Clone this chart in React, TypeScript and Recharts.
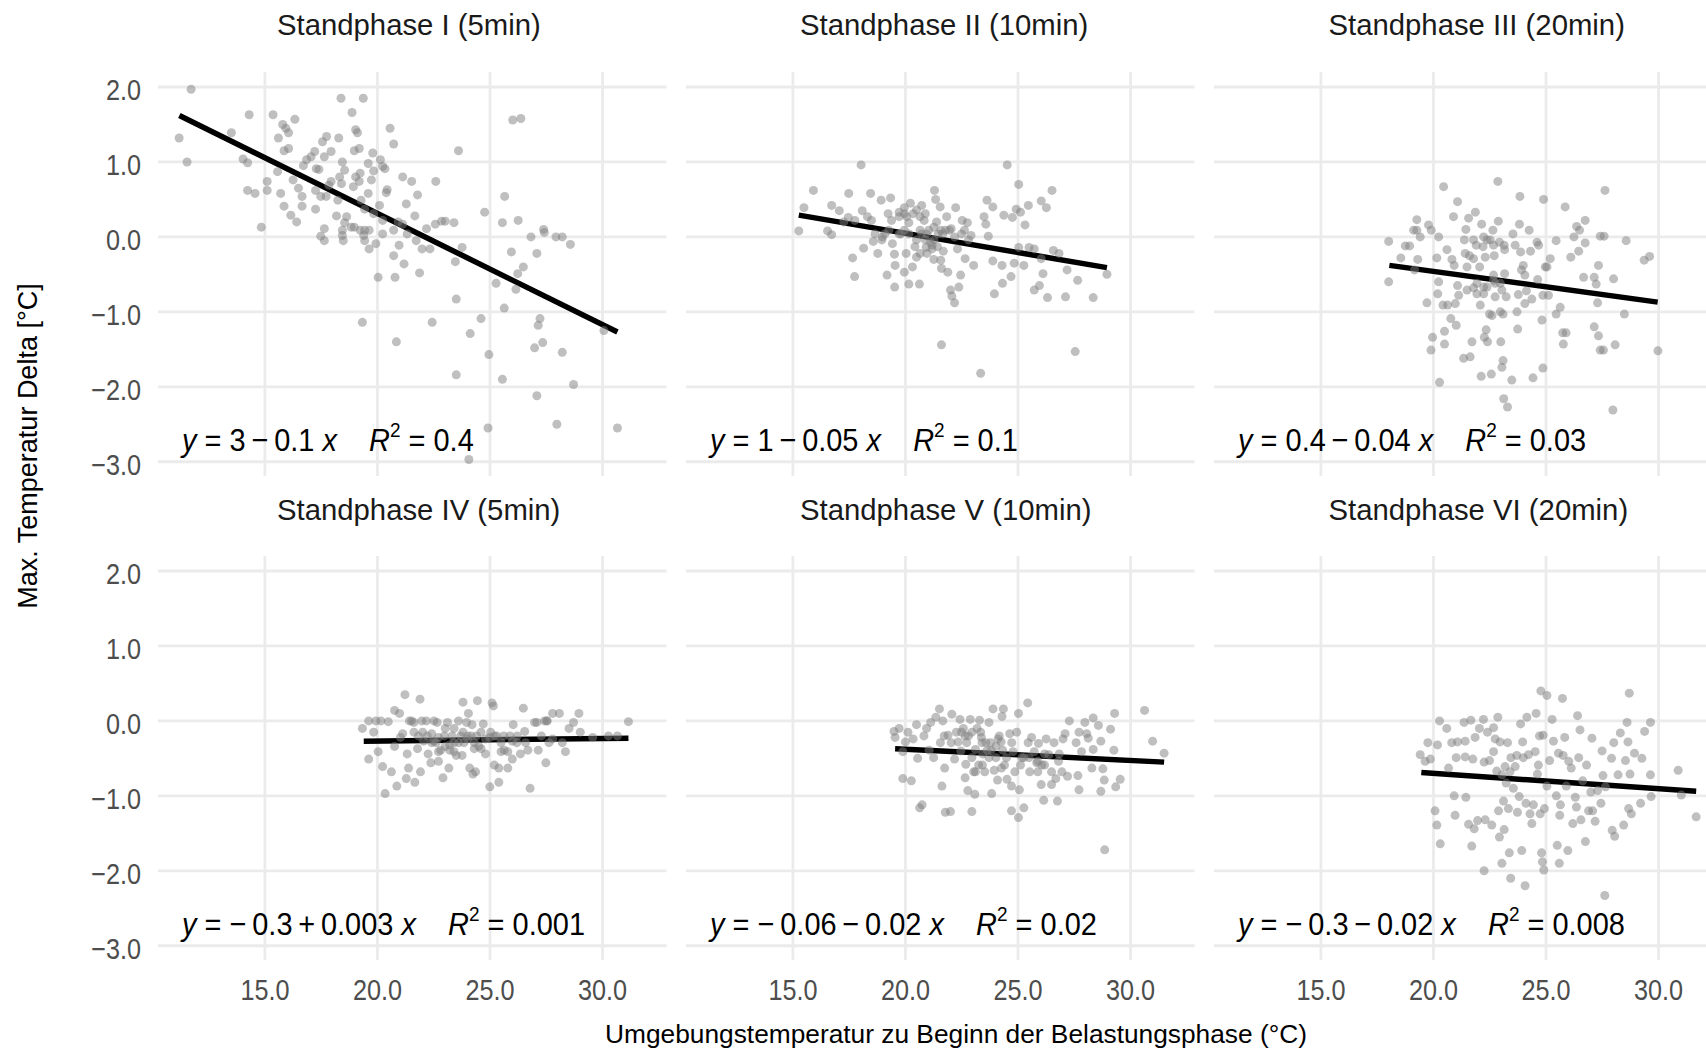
import React from 'react';
import {
  ScatterChart,
  Scatter,
  XAxis,
  YAxis,
  CartesianGrid,
  ReferenceLine
} from 'recharts';

// facet titles, regression labels
const titles = [
  'Standphase I (5min)',
  'Standphase II (10min)',
  'Standphase III (20min)',
  'Standphase IV (5min)',
  'Standphase V (10min)',
  'Standphase VI (20min)'
];
const eqRhs = [
  '3\u2009\u2212\u20090.1',
  '1\u2009\u2212\u20090.05',
  '0.4\u2009\u2212\u20090.04',
  '\u2212\u20090.3\u2009+\u20090.003',
  '\u2212\u20090.06\u2009\u2212\u20090.02',
  '\u2212\u20090.3\u2009\u2212\u20090.02'
];
const eqR2 = ['0.4', '0.1', '0.03', '0.001', '0.02', '0.008'];

const xTicks = [15, 20, 25, 30];
const yTicks = [-3, -2, -1, 0, 1, 2];

// fitted lines, read at both ends: [x1, y1, x2, y2]
const fitLines = [
  [11.2, 1.62, 30.66, -1.27],
  [15.26, 0.29, 28.95, -0.41],
  [18.04, -0.38, 29.96, -0.87],
  [19.39, -0.27, 31.15, -0.23],
  [19.54, -0.37, 31.49, -0.55],
  [19.46, -0.69, 31.67, -0.94]
];

// [ambient temperature, max. temperature delta]
const phase1 = [
  [11.72, 1.97], [11.19, 1.32], [11.54, 1.0], [13.51, 1.39], [14.03, 1.04], [14.23, 0.99], [14.3, 1.63],
  [14.23, 0.62], [14.56, 0.58], [14.84, 0.13], [15.1, 0.74], [15.1, 0.62], [15.36, 1.63], [15.6, 1.32],
  [15.79, 1.5], [15.93, 1.45], [16.05, 1.39], [16.33, 1.57], [15.85, 1.15], [16.05, 1.18], [15.56, 0.87],
  [15.7, 0.58], [15.85, 0.41], [16.15, 0.29], [16.25, 0.76], [16.41, 0.2], [16.49, 0.65], [16.65, 0.54],
  [16.65, 0.41], [16.71, 0.95], [16.85, 1.03], [17.05, 1.07], [17.21, 1.14], [17.28, 0.91], [17.4, 0.9],
  [17.56, 1.27], [17.74, 1.34], [17.64, 1.07], [17.94, 1.14], [17.94, 0.74], [17.84, 0.69], [17.25, 0.62],
  [17.48, 0.54], [17.72, 0.54], [17.25, 0.37], [17.48, 0.01], [17.64, -0.05], [17.64, 0.11], [18.28, 1.32],
  [18.38, 1.85], [18.87, 1.66], [19.03, 1.43], [19.11, 1.39], [19.37, 1.85], [18.97, 1.15], [19.19, 1.18],
  [18.44, 1.0], [18.54, 0.89], [18.32, 0.8], [18.4, 0.71], [18.24, 0.49], [18.18, 0.28], [18.54, 0.19],
  [18.44, 0.09], [18.44, 0.02], [18.48, -0.05], [18.63, 0.27], [18.83, 0.13], [18.93, 0.67], [19.03, 0.8],
  [19.23, 0.85], [19.19, 0.74], [19.59, 0.58], [19.27, 0.49], [19.43, 0.37], [18.97, 0.13], [19.23, 0.09],
  [19.43, 0.09], [19.63, 0.09], [19.39, 0.02], [19.43, -0.05], [19.63, -0.16], [19.93, -0.09], [19.79, 1.12],
  [19.59, 0.98], [19.73, 0.76], [19.83, 0.88], [20.13, 1.03], [20.23, 0.94], [20.33, 0.91], [20.43, 0.63],
  [20.39, 0.59], [20.09, 0.42], [20.23, 0.22], [19.83, 0.31], [20.23, 0.04], [20.03, -0.54], [19.33, -1.14],
  [20.56, 1.45], [20.72, 1.24], [21.12, 0.8], [21.52, 0.74], [21.78, 0.56], [21.28, 0.44], [21.66, 0.28],
  [20.72, 0.09], [20.92, 0.2], [21.12, 0.17], [21.32, 0.04], [21.72, -0.05], [21.98, -0.16], [22.18, 0.11],
  [22.33, -0.16], [20.96, -0.11], [20.72, -0.25], [21.18, -0.36], [20.78, -0.54], [21.87, -0.48], [22.59, 0.74],
  [22.57, 0.17], [22.85, 0.21], [23.01, 0.21], [23.4, 0.19], [23.76, -0.14], [23.46, -0.33], [23.5, -0.83],
  [23.6, 1.15], [24.76, 0.33], [25.65, 0.54], [25.55, 0.19], [26.25, 0.22], [25.95, -0.2], [27.08, -0.22],
  [26.82, 0.0], [27.38, 0.1], [27.41, 0.06], [27.93, 0.0], [28.21, 0.0], [28.57, -0.1], [26.48, -0.4],
  [26.23, -0.49], [26.15, -0.7], [25.63, -0.95], [25.27, -0.62], [24.6, -1.09], [24.12, -1.29], [24.95, -1.57],
  [26.01, 1.56], [26.37, 1.58], [27.22, -1.09], [27.14, -1.18], [27.34, -1.41], [26.98, -1.48], [28.21, -1.54],
  [28.71, -1.97], [27.08, -2.12], [23.5, -1.84], [25.55, -1.9], [24.91, -2.55], [27.97, -2.5], [30.66, -2.55],
  [24.06, -2.97], [20.84, -1.4], [22.43, -1.14], [30.06, -1.25]
];

const phase2 = [
  [15.26, 0.08], [15.49, 0.39], [15.91, 0.62], [16.54, 0.08], [16.72, 0.03], [16.72, 0.42], [17.06, 0.35],
  [17.46, 0.26], [17.48, 0.58], [17.65, -0.28], [17.74, -0.53], [18.03, 0.96], [18.08, 0.35], [18.14, -0.15],
  [18.31, 0.27], [18.45, 0.58], [18.57, -0.06], [18.77, -0.22], [18.92, 0.49], [18.98, 0.0], [19.18, -0.51],
  [19.23, 0.31], [19.34, 0.52], [19.38, 0.22], [19.51, -0.23], [19.54, -0.38], [19.52, -0.67], [19.72, 0.33],
  [19.8, 0.04], [19.95, 0.39], [19.95, -0.47], [20.03, -0.22], [20.06, 0.27], [20.15, -0.63], [20.22, 0.45],
  [20.31, -0.4], [20.42, -0.13], [20.49, -0.27], [20.62, -0.63], [20.65, 0.09], [20.72, 0.42], [20.83, 0.22],
  [20.92, -0.14], [21.03, 0.09], [21.18, -0.11], [21.26, -0.3], [21.29, 0.62], [21.34, 0.5], [21.38, 0.2],
  [21.45, 0.04], [21.54, 0.4], [21.57, -0.31], [21.6, -0.42], [21.6, -1.44], [21.68, -0.19], [21.78, 0.09],
  [21.83, 0.27], [21.88, -0.47], [22.0, -0.71], [22.03, 0.11], [22.06, -0.79], [22.18, -0.88], [22.23, 0.39],
  [22.31, -0.16], [22.37, -0.67], [22.45, -0.51], [22.52, 0.22], [22.62, 0.09], [22.65, -0.29], [22.75, 0.19],
  [22.91, 0.02], [23.03, -0.38], [23.34, -1.82], [23.49, 0.27], [23.57, 0.17], [23.62, 0.49], [23.68, 0.01],
  [23.88, 0.4], [23.88, -0.32], [23.95, -0.76], [24.29, -0.38], [24.31, -0.62], [24.37, 0.29], [24.52, 0.96],
  [24.69, -0.53], [24.75, 0.26], [24.83, -0.35], [24.92, 0.37], [25.03, 0.7], [25.03, -0.14], [25.11, 0.33],
  [25.26, -0.38], [25.31, 0.16], [25.46, 0.42], [25.49, -0.14], [25.72, -0.16], [25.72, -0.71], [25.95, -0.65],
  [26.03, 0.48], [26.03, -0.29], [26.11, -0.49], [26.26, 0.39], [26.31, -0.81], [26.51, 0.62], [26.57, -0.18],
  [26.82, -0.22], [27.11, -0.8], [27.18, -0.44], [27.54, -1.53], [27.65, -0.58], [28.34, -0.81], [28.95, -0.5],
  [19.95, 0.09], [20.15, 0.04], [20.49, -0.04], [20.72, 0.04], [20.88, -0.04], [21.11, -0.07], [21.26, -0.04],
  [21.57, 0.09], [19.72, 0.04], [19.42, -0.09], [19.08, 0.04], [18.65, 0.04], [18.49, 0.22], [17.75, 0.22],
  [17.26, 0.2], [19.72, 0.27], [19.95, 0.31], [20.15, 0.19], [20.34, 0.31], [20.65, 0.27], [20.95, 0.04],
  [21.26, 0.13], [21.65, 0.04], [21.95, 0.09], [22.18, 0.0], [22.49, 0.04], [22.8, -0.04], [20.65, -0.22],
  [20.95, -0.22], [21.18, -0.16], [21.42, -0.13], [19.26, 0.09], [18.95, -0.04], [20.49, 0.36], [20.88, 0.31]
];

const phase3 = [
  [18.01, -0.06], [18.01, -0.6], [18.55, -0.28], [18.75, -0.12], [18.94, -0.12], [19.12, 0.09], [19.26, 0.23],
  [19.26, 0.09], [19.3, -0.3], [19.41, 0.0], [19.16, -0.44], [19.71, -0.88], [19.78, 0.16], [19.9, 0.09],
  [19.96, -1.34], [19.89, -1.51], [20.23, 0.0], [20.15, -0.28], [20.23, -0.6], [20.19, -0.76], [20.27, -1.94],
  [20.45, 0.67], [20.42, -0.91], [20.49, -1.43], [20.49, -1.26], [20.6, -0.17], [20.63, -0.91], [20.77, -1.09],
  [20.82, -0.3], [20.89, 0.27], [20.92, -0.38], [20.97, -0.89], [21.01, -1.18], [21.07, 0.47], [21.07, -0.65],
  [21.12, -0.78], [21.34, -1.62], [21.37, -0.04], [21.44, 0.1], [21.49, -0.4], [21.56, 0.25], [21.6, -0.25],
  [21.63, -1.6], [21.71, -1.4], [21.78, -0.68], [21.86, 0.33], [21.9, -0.11], [21.93, -0.76], [22.05, -0.4],
  [22.08, -0.91], [22.12, -1.86], [22.14, 0.17], [22.2, -0.13], [22.23, -0.67], [22.26, -1.34], [22.3, -0.27],
  [22.34, -1.24], [22.4, -1.4], [22.49, -1.03], [22.52, -0.04], [22.57, -1.83], [22.6, -1.05], [22.64, 0.09],
  [22.67, -0.51], [22.7, -0.25], [22.74, -0.8], [22.74, -0.62], [22.86, 0.74], [22.88, 0.21], [22.93, -0.07],
  [22.97, -1.0], [22.99, -1.4], [23.04, -1.74], [23.09, -1.03], [23.09, -1.65], [23.12, -2.16], [23.14, -0.11],
  [23.16, -0.49], [23.16, -0.17], [23.23, -0.8], [23.29, -2.27], [23.48, -1.91], [23.53, 0.04], [23.63, -0.11],
  [23.71, -1.0], [23.74, -1.23], [23.77, -0.77], [23.82, 0.17], [23.84, 0.54], [23.87, -0.2], [23.91, -0.44],
  [23.99, -0.38], [24.06, -0.89], [24.06, -0.51], [24.13, -0.72], [24.25, 0.09], [24.31, -0.19], [24.37, -0.83],
  [24.42, -1.88], [24.6, -0.07], [24.63, -0.57], [24.67, -0.11], [24.82, -1.11], [24.86, -0.78], [24.86, -1.75],
  [24.89, 0.5], [24.97, -0.4], [25.04, -0.4], [25.11, -0.78], [25.19, -0.29], [25.45, -0.05], [25.45, -1.03],
  [25.63, -0.94], [25.74, -1.28], [25.77, -1.43], [25.85, 0.4], [25.89, -1.28], [26.1, -0.27], [26.24, 0.0],
  [26.36, 0.14], [26.45, -0.19], [26.49, 0.09], [26.67, -0.54], [26.74, 0.22], [26.74, -0.08], [27.14, -0.54],
  [27.14, -1.2], [27.23, -0.63], [27.29, -0.88], [27.33, -0.38], [27.33, -1.32], [27.41, 0.01], [27.41, -1.51],
  [27.55, -1.51], [27.58, 0.01], [27.62, 0.62], [27.97, -2.31], [28.0, -0.56], [28.07, -1.44], [28.48, -1.03],
  [28.56, -0.05], [29.36, -0.31], [29.6, -0.26], [29.97, -1.52], [21.41, -0.22], [21.78, -0.29], [21.93, -0.62],
  [22.38, -0.67], [22.67, -0.58], [22.97, -0.62], [23.04, -0.71], [22.23, -0.76], [21.49, -0.71], [21.78, -0.04],
  [22.23, 0.0], [22.38, -0.04], [22.67, -0.11]
];

const phase4 = [
  [19.33, -0.1], [19.61, 0.0], [19.61, -0.51], [19.83, -0.15], [19.93, 0.0], [20.03, -0.41], [20.15, 0.0],
  [20.23, -0.61], [20.34, -0.97], [20.48, -0.01], [20.62, -0.68], [20.76, 0.14], [20.76, -0.34], [20.86, -0.87],
  [20.98, 0.1], [21.12, -0.17], [21.22, 0.35], [21.28, -0.77], [21.32, -0.44], [21.38, -0.63], [21.42, 0.0],
  [21.52, 0.0], [21.62, -0.15], [21.66, -0.82], [21.78, -0.37], [21.89, 0.29], [21.91, -0.68], [21.97, 0.0],
  [22.05, -0.27], [22.17, 0.0], [22.25, -0.44], [22.37, -0.56], [22.41, -0.17], [22.51, 0.0], [22.61, -0.29],
  [22.65, -0.02], [22.71, -0.54], [22.81, -0.39], [22.91, -0.76], [22.97, -0.2], [23.11, -0.02], [23.17, -0.63],
  [23.21, -0.39], [23.31, -0.2], [23.4, -0.1], [23.5, -0.46], [23.6, 0.0], [23.7, -0.2], [23.76, -0.46],
  [23.8, 0.25], [23.84, -0.29], [23.96, -0.02], [24.04, 0.1], [24.1, -0.63], [24.16, -0.2], [24.24, -0.71],
  [24.36, -0.68], [24.44, 0.27], [24.5, -0.34], [24.6, -0.15], [24.7, -0.04], [24.8, -0.44], [24.99, -0.88],
  [25.03, -0.15], [25.09, 0.24], [25.15, 0.2], [25.19, -0.59], [25.29, -0.2], [25.39, -0.82], [25.39, -0.63],
  [25.49, -0.41], [25.63, -0.39], [25.79, -0.63], [25.89, -0.2], [25.99, -0.51], [26.03, -0.05], [26.19, -0.29],
  [26.35, -0.44], [26.48, 0.17], [26.54, -0.14], [26.68, -0.39], [26.78, -0.9], [26.98, -0.02], [27.14, -0.39],
  [27.28, -0.2], [27.42, 0.0], [27.48, -0.56], [27.52, 0.0], [27.62, -0.29], [27.78, 0.1], [28.08, 0.1],
  [28.21, -0.29], [28.35, -0.41], [28.51, -0.1], [28.71, -0.02], [28.95, 0.1], [29.01, -0.15], [29.56, -0.22],
  [30.26, -0.2], [30.66, -0.2], [31.15, -0.01], [22.21, -0.2], [22.41, -0.29], [23.01, -0.34], [23.4, -0.29],
  [24.0, -0.24], [24.3, -0.29], [23.01, -0.1], [23.8, -0.15], [24.4, -0.2], [24.8, -0.24], [25.61, -0.2],
  [26.21, -0.2], [26.58, -0.29], [22.01, -0.15], [22.71, -0.22], [22.51, -0.27], [23.21, -0.32], [24.0, -0.2],
  [24.3, -0.37], [24.6, -0.37], [24.99, -0.22], [25.49, -0.29], [25.99, -0.27], [27.08, -0.02], [27.54, 0.0],
  [27.78, -0.24], [23.4, -0.41], [22.71, -0.41], [21.62, -0.02], [21.82, -0.2], [21.02, -0.22], [25.79, -0.41],
  [25.19, -0.2], [24.2, -0.05], [23.6, -0.29]
];

const phase5 = [
  [19.49, -0.14], [19.54, -0.22], [19.72, -0.1], [19.88, -0.41], [19.88, -0.77], [20.0, -0.28], [20.11, -0.15],
  [20.26, -0.8], [20.34, -0.24], [20.49, -0.05], [20.54, -0.5], [20.63, -1.16], [20.74, -1.12], [20.82, -0.2],
  [20.94, -0.1], [21.05, -0.39], [21.12, -0.02], [21.25, -0.49], [21.35, 0.05], [21.51, 0.16], [21.55, -0.29],
  [21.62, -0.87], [21.66, 0.0], [21.74, -0.63], [21.77, -1.22], [21.89, -0.19], [22.0, -1.21], [22.06, 0.09],
  [22.18, -0.51], [22.26, -0.15], [22.34, -0.28], [22.42, 0.02], [22.46, -0.4], [22.57, -0.1], [22.65, -0.76],
  [22.68, -0.58], [22.77, -0.93], [22.8, -0.2], [22.88, 0.02], [22.95, -1.21], [23.03, -0.68], [23.08, -0.98],
  [23.11, -0.38], [23.18, -0.1], [23.25, -0.59], [23.29, 0.01], [23.37, -0.22], [23.43, -0.44], [23.52, -0.68],
  [23.63, -0.39], [23.71, -0.02], [23.78, -0.29], [23.83, -0.97], [23.89, 0.16], [23.94, -0.66], [24.02, -0.49],
  [24.09, -0.79], [24.17, -0.2], [24.25, -0.28], [24.29, 0.06], [24.35, 0.16], [24.4, -0.59], [24.51, -0.78],
  [24.63, -0.17], [24.71, -1.2], [24.71, -0.87], [24.78, -0.41], [24.86, -0.68], [24.94, -0.15], [25.02, 0.1],
  [25.02, -1.29], [25.06, -0.92], [25.17, -0.49], [25.26, -1.16], [25.43, 0.24], [25.45, -0.29], [25.52, -0.68],
  [25.6, -0.22], [25.72, -0.41], [25.83, -0.56], [25.91, -0.3], [26.03, -0.85], [26.06, -0.59], [26.14, -1.06],
  [26.25, -0.24], [26.37, -0.45], [26.49, -0.85], [26.6, -0.29], [26.68, -0.77], [26.75, -1.07], [26.83, -0.44],
  [26.95, -0.68], [27.0, -0.24], [27.09, -0.17], [27.2, -0.74], [27.28, 0.0], [27.58, -0.29], [27.66, -0.73],
  [27.71, -0.15], [27.71, -0.92], [27.82, -0.41], [27.97, -0.02], [28.05, -0.17], [28.12, -0.23], [28.28, -0.63],
  [28.34, -0.38], [28.34, 0.04], [28.57, -0.06], [28.68, -0.27], [28.68, -0.94], [28.77, -0.64], [28.83, -0.79],
  [28.85, -1.72], [29.11, -0.11], [29.26, -0.39], [29.29, 0.1], [29.34, -0.88], [29.54, -0.78], [30.62, 0.14],
  [30.98, -0.27], [31.49, -0.43], [22.95, -0.15], [22.65, -0.2], [23.4, -0.29], [24.02, -0.34], [23.71, -0.49],
  [24.32, -0.39], [25.26, -0.49], [25.88, -0.54], [26.18, -0.59], [22.49, -0.15], [22.72, -0.29], [23.11, -0.68],
  [23.34, -0.15], [23.57, -0.29], [23.8, -0.39], [24.11, -0.24], [24.26, -0.63], [24.49, -0.49], [24.72, -0.29],
  [25.11, -0.59], [25.49, -0.49], [25.88, -0.68], [26.18, -0.44], [26.49, -0.68], [26.8, -0.54], [21.72, -0.2],
  [22.03, -0.29], [22.95, -0.49], [23.42, -0.59]
];

const phase6 = [
  [19.41, -0.45], [19.63, -0.54], [19.75, -0.29], [19.86, -0.51], [20.07, -1.2], [20.15, -1.39], [20.18, -0.32],
  [20.27, 0.0], [20.3, -1.64], [20.59, -0.1], [20.67, -0.63], [20.81, -0.29], [20.92, -1.0], [20.96, -1.26],
  [21.01, -0.49], [21.07, -0.28], [21.36, -0.02], [21.41, -0.27], [21.41, -0.48], [21.44, -1.02], [21.56, -1.38],
  [21.66, 0.01], [21.7, -1.67], [21.75, -0.51], [21.81, -1.44], [21.85, -0.22], [21.96, -1.33], [22.04, -0.1],
  [22.22, 0.02], [22.25, -0.55], [22.25, -2.0], [22.3, -1.32], [22.4, -0.15], [22.49, -0.53], [22.59, -1.39],
  [22.67, -0.09], [22.67, -0.41], [22.74, -0.24], [22.81, -0.67], [22.86, 0.05], [22.89, -1.2], [22.93, -1.55],
  [22.96, -0.28], [23.04, -0.72], [23.04, -1.9], [23.11, -1.07], [23.14, -1.45], [23.18, -0.61], [23.23, -0.83],
  [23.29, -0.29], [23.33, -1.17], [23.37, -1.76], [23.4, -0.68], [23.43, -2.1], [23.44, -0.49], [23.55, -0.9],
  [23.63, -0.61], [23.7, -0.46], [23.73, -1.22], [23.81, -1.01], [23.87, -0.04], [23.92, -1.73], [23.96, -0.28],
  [23.99, -0.49], [24.07, -2.2], [24.11, -1.1], [24.15, 0.05], [24.22, -0.45], [24.29, -1.24], [24.37, -1.37],
  [24.44, -1.12], [24.52, -0.41], [24.56, 0.1], [24.62, -0.71], [24.66, -0.59], [24.71, -0.2], [24.74, -1.24],
  [24.77, 0.4], [24.8, -1.76], [24.84, -1.88], [24.87, -0.19], [24.9, -1.99], [24.93, -1.17], [25.04, 0.34],
  [25.04, -0.87], [25.16, -0.53], [25.27, 0.02], [25.33, -0.27], [25.46, -1.0], [25.5, -1.66], [25.55, -0.43],
  [25.59, -1.9], [25.61, -1.26], [25.64, -1.12], [25.73, 0.3], [25.76, -0.46], [25.83, -0.22], [25.9, -0.87],
  [25.97, -1.73], [26.01, -0.54], [26.12, -0.63], [26.19, -1.37], [26.3, -1.02], [26.35, -1.15], [26.4, 0.07],
  [26.45, -0.49], [26.51, -0.12], [26.55, -1.32], [26.63, -0.8], [26.75, -1.61], [26.8, -0.59], [26.89, -1.2],
  [26.99, -0.95], [27.04, -0.23], [27.07, -1.2], [27.18, -1.34], [27.29, -0.93], [27.44, -1.1], [27.49, -0.4],
  [27.53, -0.73], [27.61, -2.33], [27.64, -0.88], [27.91, -0.5], [27.94, -1.46], [28.01, -0.29], [28.05, -1.54],
  [28.2, -0.72], [28.3, -0.16], [28.45, -1.39], [28.53, -0.53], [28.6, -0.02], [28.64, -0.28], [28.67, -1.17],
  [28.7, 0.37], [28.73, -0.71], [28.79, -1.24], [28.93, -0.43], [29.2, -1.1], [29.26, -0.5], [29.38, -0.14],
  [29.64, -0.02], [29.64, -0.72], [29.67, -1.01], [30.87, -0.66], [31.01, -0.99], [31.67, -1.28]
];

const phases = [phase1, phase2, phase3, phase4, phase5, phase6];

// layout
const FONT = '"Liberation Sans", Arial, Helvetica, sans-serif';
const PANEL_LEFT = [158, 686, 1213.5];
const PANEL_TOP = [71.7, 556];
const PANEL_W = 508.5;
const PANEL_H = 404;
const AXW = 80;
const AXH = 60;
const TITLE_LEFT = [277, 800, 1328.5];
const EQ_ANCHOR = { x: 11.32, y: -2.86 };

const fmt = (v: number) => (v < 0 ? '\u2212' + Math.abs(v).toFixed(1) : v.toFixed(1));

// ticks are always generated (the grid needs them), only drawn on outer panels
const XTick = (props: any) => {
  const { x, y, payload, show } = props;
  if (!show) return <g />;
  return (
    <text
      transform={`translate(${x},${y + 40}) scale(0.87,1)`}
      textAnchor="middle"
      fontSize={29}
      fontFamily={FONT}
      fill="#4D4D4D"
    >
      {fmt(payload.value)}
    </text>
  );
};

const YTick = (props: any) => {
  const { x, y, payload, show } = props;
  if (!show) return <g />;
  return (
    <text
      transform={`translate(${x - 17},${y + 13}) scale(0.87,1)`}
      textAnchor="end"
      fontSize={29}
      fontFamily={FONT}
      fill="#4D4D4D"
    >
      {fmt(payload.value)}
    </text>
  );
};

const Dot = (props: any) => (
  <circle cx={props.cx} cy={props.cy} r={4.5} fill="#7F7F7F" fillOpacity={0.5} />
);

const Equation = ({ cx, cy, rhs, r2 }: any) => (
  <text
    transform={`translate(${cx},${cy}) scale(0.905,1)`}
    fontSize={32}
    fontFamily={FONT}
    fill="#000"
    style={{ whiteSpace: 'pre' }}
  >
    <tspan fontStyle="italic">y</tspan>
    <tspan>{` = ${rhs} `}</tspan>
    <tspan fontStyle="italic">x</tspan>
    <tspan>{'    '}</tspan>
    <tspan fontStyle="italic">R</tspan>
    <tspan dy={-14} fontSize={21}>2</tspan>
    <tspan dy={14}>{` = ${r2}`}</tspan>
  </text>
);

const Panel = ({ idx }: { idx: number }) => {
  const col = idx % 3;
  const row = Math.floor(idx / 3);
  const data = phases[idx].map(([x, y]) => ({ x, y }));
  const [x1, y1, x2, y2] = fitLines[idx];

  return (
    <div style={{ position: 'absolute', left: PANEL_LEFT[col] - AXW, top: PANEL_TOP[row] }}>
      <ScatterChart
        width={AXW + PANEL_W}
        height={PANEL_H + AXH}
        margin={{ top: 0, right: 0, bottom: 0, left: 0 }}
      >
        <CartesianGrid stroke="#EBEBEB" strokeWidth={2.8} syncWithTicks />
        <XAxis
          type="number"
          dataKey="x"
          domain={[10.25, 32.84]}
          ticks={xTicks}
          interval={0}
          allowDataOverflow
          axisLine={false}
          tickLine={false}
          tickSize={0}
          tickMargin={0}
          height={AXH}
          tick={<XTick show={row === 1} />}
        />
        <YAxis
          type="number"
          dataKey="y"
          domain={[-3.19, 2.2]}
          ticks={yTicks}
          interval={0}
          allowDataOverflow
          axisLine={false}
          tickLine={false}
          tickSize={0}
          tickMargin={0}
          width={AXW}
          tick={<YTick show={col === 0} />}
        />
        <Scatter data={data} shape={Dot} isAnimationActive={false} />
        <ReferenceLine
          segment={[{ x: x1, y: y1 }, { x: x2, y: y2 }]}
          stroke="#000"
          strokeWidth={5.5}
        />
        <Scatter
          data={[EQ_ANCHOR]}
          isAnimationActive={false}
          shape={(p: any) => <Equation cx={p.cx} cy={p.cy} rhs={eqRhs[idx]} r2={eqR2[idx]} />}
        />
      </ScatterChart>
    </div>
  );
};

const App = () => {
  return (
    <div
      style={{
        position: 'fixed',
        left: 0,
        top: 0,
        width: 1706,
        height: 1053,
        overflow: 'hidden',
        background: '#fff'
      }}
    >
      {titles.map((_, i) => (
        <Panel key={i} idx={i} />
      ))}
      <svg
        width={1706}
        height={1053}
        style={{ position: 'absolute', left: 0, top: 0, pointerEvents: 'none' }}
      >
        {titles.map((t, i) => (
          <text
            key={t}
            x={TITLE_LEFT[i % 3]}
            y={i < 3 ? 35 : 520}
            textAnchor="start"
            fontSize={29.3}
            fontFamily={FONT}
            fill="#1A1A1A"
          >
            {t}
          </text>
        ))}
        <text x={956} y={1043} textAnchor="middle" fontSize={26.3} fontFamily={FONT} fill="#000">
          Umgebungstemperatur zu Beginn der Belastungsphase (°C)
        </text>
        <text
          transform="translate(37,446) rotate(-90)"
          textAnchor="middle"
          fontSize={27}
          fontFamily={FONT}
          fill="#000"
        >
          Max. Temperatur Delta [°C]
        </text>
      </svg>
    </div>
  );
};

export default App;
